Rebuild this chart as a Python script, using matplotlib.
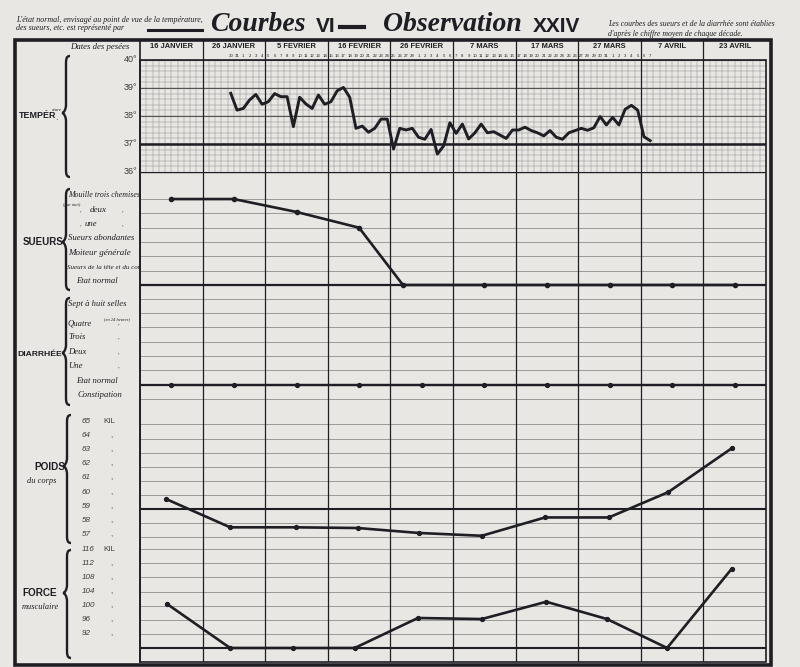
import numpy as np
import pandas as pd
import matplotlib
matplotlib.use('Agg')
import matplotlib.pyplot as plt
from matplotlib.lines import Line2D
from matplotlib.patches import Rectangle, PathPatch
from matplotlib.path import Path
from matplotlib.transforms import blended_transform_factory

W, H = 800, 667
PAPER = '#e8e7e3'
INK = '#1e1e24'
GRID = '#8e8e8e'
LABEL = '#3c3c3c'
SCRIPT = 'Liberation Serif'
SANS = 'Liberation Sans'

# ---- values (x = days since 16 janvier, 10 days per column) ----
decades = ['16 JANVIER', '26 JANVIER', '5 FEVRIER', '16 FEVRIER', '26 FEVRIER',
           '7 MARS', '17 MARS', '27 MARS', '7 AVRIL', '23 AVRIL']

temp_start = 14  # 30 janvier
temp = [38.81, 38.21, 38.27, 38.57, 38.77, 38.42, 38.51, 38.80, 38.69, 38.69,
        37.62, 38.67, 38.43, 38.27, 38.75, 38.42, 38.51, 38.90, 39.02, 38.67,
        37.56, 37.64, 37.42, 37.56, 37.89, 37.89, 36.82, 37.56, 37.50, 37.56,
        37.24, 37.17, 37.52, 36.64, 36.93, 37.76, 37.38, 37.71, 37.18, 37.40,
        37.71, 37.40, 37.44, 37.32, 37.20, 37.50, 37.50, 37.60, 37.48, 37.40,
        37.29, 37.48, 37.24, 37.17, 37.40, 37.48, 37.56, 37.49, 37.58, 37.98,
        37.68, 37.95, 37.68, 38.24, 38.38, 38.21, 37.26, 37.12]

sueurs_x = [5, 15, 25, 35, 42, 55, 65, 75, 85, 95]
sueurs = [6, 6, 5.1, 4, 0, 0, 0, 0, 0, 0]
diarrhee_x = [5, 15, 25, 35, 45, 55, 65, 75, 85, 95]
diarrhee = [0, 0, 0, 0, 0, 0, 0, 0, 0, 0]
poids_x = [4.2, 14.4, 24.9, 34.8, 44.5, 54.6, 64.7, 74.9, 84.4, 94.5]
poids = [59.7, 57.7, 57.7, 57.65, 57.3, 57.1, 58.4, 58.4, 60.2, 63.3]
force_x = [4.3, 14.4, 24.5, 34.3, 44.4, 54.6, 64.9, 74.6, 84.2, 94.5]
force = [100.5, 88, 88, 88, 96.5, 96.2, 101.1, 96.2, 88, 110.4]

temp_ticks = [40, 39, 38, 37, 36]
poids_ticks = [65, 64, 63, 62, 61, 60, 59, 58, 57]
force_ticks = [116, 112, 108, 104, 100, 96, 92]

fig = plt.figure(figsize=(8, 6.67), dpi=100, facecolor=PAPER)


def fpt(px, py):
    return px / W, 1 - py / H


def ftext(px, py, s, **kw):
    fig.text(px / W, 1 - py / H, s, **kw)


def fline(xs, ys, **kw):
    fig.add_artist(Line2D([x / W for x in xs], [1 - y / H for y in ys],
                          transform=fig.transFigure, **kw))


def panel(top, bottom):
    ax = fig.add_axes([140 / W, 1 - bottom / H, 626 / W, (bottom - top) / H])
    ax.set_facecolor('none')
    ax.set_xlim(0, 100)
    ax.set_xticks([])
    ax.set_yticks([])
    for s in ax.spines.values():
        s.set_visible(False)
    for xv in range(10, 100, 10):
        ax.axvline(xv, color=INK, lw=0.9, zorder=2)
    return ax


def brace(x, top, mid, bottom, w=4):
    pts = [(x + w, top), (x, top), (x, top + w), (x, top + 2 * w),
           (x, mid - 2 * w), (x, mid - w), (x - 0.5 * w, mid), (x - w, mid),
           (x - 0.5 * w, mid), (x, mid + w), (x, mid + 2 * w),
           (x, bottom - 2 * w), (x, bottom - w), (x, bottom), (x + w, bottom)]
    codes = [Path.MOVETO, Path.CURVE4, Path.CURVE4, Path.CURVE4,
             Path.LINETO, Path.CURVE4, Path.CURVE4, Path.CURVE4,
             Path.CURVE4, Path.CURVE4, Path.CURVE4,
             Path.LINETO, Path.CURVE4, Path.CURVE4, Path.CURVE4]
    path = Path([fpt(*p) for p in pts], codes)
    fig.add_artist(PathPatch(path, fill=False, lw=1.7, color=INK,
                             transform=fig.transFigure))


# ---- header row ----
hdr = panel(40, 60)
hdr.set_ylim(0, 1)
for i, lab in enumerate(decades):
    hdr.text(5 + 10 * i, 0.66, lab, ha='center', va='center', fontsize=5.4,
             fontweight='bold', family=SANS, color=INK)
days = pd.date_range('1890-01-30', periods=len(temp)).day
for i, d in enumerate(days):
    hdr.text(temp_start + 0.5 + i, 0.2, str(d), ha='center', va='center',
             fontsize=3.1, family=SANS, color=INK)

# ---- temperature ----
ax_t = panel(60, 172)
ax_t.set_ylim(36, 40)
for d in range(1, 100):
    if d % 10:
        ax_t.axvline(d, color=GRID, lw=0.35, zorder=1)
for v in np.arange(36.2, 40, 0.2):
    ax_t.axhline(v, color=GRID, lw=0.35, zorder=1)
for v in temp_ticks:
    ax_t.axhline(v, color='#555555', lw=0.8, zorder=1)
ax_t.axhline(37, color=INK, lw=1.8, zorder=2)
tx = temp_start + 0.5 + np.arange(len(temp))
ax_t.plot(tx, temp, color=INK, lw=2.1, zorder=4)
tr = blended_transform_factory(fig.transFigure, ax_t.transData)
for v in temp_ticks:
    ax_t.text(137 / W, v, f'{v}°', transform=tr, ha='right', va='center',
              fontsize=6.5, family=SANS, color=LABEL)

# ---- sueurs ----
ax_s = panel(172, 292)
ax_s.set_ylim(-0.49, 7.89)
ax_s.axhline(7.89, color=INK, lw=1.0)
for v in range(1, 7):
    ax_s.axhline(v, color=GRID, lw=0.6, zorder=1)
ax_s.axhline(0, color=INK, lw=1.6, zorder=2)
ax_s.plot(sueurs_x, sueurs, color=INK, lw=1.9, marker='o', ms=3, zorder=4)
tr = blended_transform_factory(fig.transFigure, ax_s.transData)
sueurs_labels = [(6, 68, 'left', 'Mouille trois chemises', 5.7),
                 (5, 98, 'center', 'deux', 6.4),
                 (4, 91, 'center', 'une', 6.2),
                 (3, 68, 'left', 'Sueurs abondantes', 6.3),
                 (2, 68, 'left', 'Moiteur générale', 6.5),
                 (1, 67, 'left', 'Sueurs de la tête et du cou', 5.0),
                 (0, 97, 'center', 'Etat normal', 6.2)]
for v, px, ha, s, fs in sueurs_labels:
    ax_s.text(px / W, v + 0.25, s, transform=tr, ha=ha, va='center',
              fontsize=fs, family=SCRIPT, style='italic', color=INK)
for v in (5, 4):
    for px in (81, 123):
        ax_s.text(px / W, v + 0.25, ',', transform=tr, ha='center',
                  va='center', fontsize=5, family=SCRIPT, color=LABEL)
ax_s.text(72 / W, 5.6, '(par nuit)', transform=tr, ha='center', va='center',
          fontsize=3.2, family=SCRIPT, style='italic', color=INK)

# ---- diarrhée ----
ax_d = panel(292, 404)
ax_d.set_ylim(-1.36, 6.47)
for v in range(-1, 7):
    if v:
        ax_d.axhline(v, color=GRID, lw=0.6, zorder=1)
ax_d.axhline(0, color=INK, lw=1.6, zorder=2)
ax_d.plot(diarrhee_x, diarrhee, color=INK, lw=1.6, marker='o', ms=2.8, zorder=4)
tr = blended_transform_factory(fig.transFigure, ax_d.transData)
diarrhee_labels = [(5.6, 68, 'left', 'Sept à huit selles'),
                   (4.3, 68, 'left', 'Quatre'),
                   (3.3, 68, 'left', 'Trois'),
                   (2.3, 68, 'left', 'Deux'),
                   (1.3, 68, 'left', 'Une'),
                   (0.25, 97, 'center', 'Etat normal'),
                   (-0.75, 100, 'center', 'Constipation')]
for v, px, ha, s in diarrhee_labels:
    ax_d.text(px / W, v, s, transform=tr, ha=ha, va='center', fontsize=6.2,
              family=SCRIPT, style='italic', color=INK)
for v in (4.3, 3.3, 2.3, 1.3):
    ax_d.text(119 / W, v, ',', transform=tr, ha='center', va='center',
              fontsize=5, family=SCRIPT, color=LABEL)
ax_d.text(117 / W, 4.6, '(en 24 heures)', transform=tr, ha='center',
          va='center', fontsize=3.2, family=SCRIPT, style='italic', color=INK)

# ---- poids du corps ----
ax_p = panel(404, 540)
ax_p.set_ylim(56.8, 66.45)
for v in poids_ticks:
    ax_p.axhline(v, color=GRID, lw=0.6, zorder=1)
ax_p.axhline(59, color=INK, lw=1.5, zorder=2)
ax_p.plot(poids_x, poids, color=INK, lw=1.9, marker='o', ms=2.8, zorder=4)
tr = blended_transform_factory(fig.transFigure, ax_p.transData)
for v in poids_ticks:
    ax_p.text(82 / W, v + 0.2, str(v), transform=tr, ha='left', va='center',
              fontsize=5.8, family=SANS, style='italic', color=LABEL)
    ax_p.text(103 / W if v == 65 else 110 / W, v + 0.2,
              'KIL' if v == 65 else ',', transform=tr, ha='left', va='center',
              fontsize=5.8, family=SANS, color=LABEL)

# ---- force musculaire ----
ax_f = panel(540, 662)
ax_f.set_ylim(84.03, 118.6)
for v in force_ticks:
    ax_f.axhline(v, color=GRID, lw=0.6, zorder=1)
ax_f.axhline(88, color=INK, lw=1.5, zorder=2)
ax_f.plot(force_x, force, color=INK, lw=1.9, marker='o', ms=2.8, zorder=4)
tr = blended_transform_factory(fig.transFigure, ax_f.transData)
for v in force_ticks:
    ax_f.text(82 / W, v, str(v), transform=tr, ha='left', va='center',
              fontsize=5.8, family=SANS, style='italic', color=LABEL)
    ax_f.text(103 / W if v == 116 else 110 / W, v,
              'KIL' if v == 116 else ',', transform=tr, ha='left',
              va='center', fontsize=5.8, family=SANS, color=LABEL)

# ---- frame ----
fig.add_artist(Rectangle(fpt(15, 665), 756 / W, 625 / H, fill=False, lw=2.6,
                         ec=INK, transform=fig.transFigure))
fig.add_artist(Rectangle(fpt(140, 662), 626 / W, 602 / H, fill=False, lw=1.2,
                         ec=INK, transform=fig.transFigure))
fline([140, 140], [40, 662], color=INK, lw=1.2)

# ---- left column labels ----
ftext(100, 47, 'Dates des pesées', ha='center', va='center', fontsize=6.3,
      family=SCRIPT, style='italic', color=INK)
ftext(19, 115, 'TEMPÉR', ha='left', va='center', fontsize=6.4,
      fontweight='bold', family=SANS, color=INK)
ftext(52, 110, 'ature', ha='left', va='center', fontsize=3.4,
      family=SCRIPT, style='italic', color=INK)
ftext(55, 118, '.', ha='left', va='center', fontsize=6, color=INK)
ftext(63, 242, 'SUEURS', ha='right', va='center', fontsize=7,
      fontweight='bold', family=SANS, color=INK)
ftext(62, 354, 'DIARRHÉE', ha='right', va='center', fontsize=6.1,
      fontweight='bold', family=SANS, color=INK)
ftext(50, 467, 'POIDS', ha='center', va='center', fontsize=7.2,
      fontweight='bold', family=SANS, color=INK)
ftext(42, 481, 'du corps', ha='center', va='center', fontsize=6,
      family=SCRIPT, style='italic', color=INK)
ftext(40, 593, 'FORCE', ha='center', va='center', fontsize=7.2,
      fontweight='bold', family=SANS, color=INK)
ftext(40, 607, 'musculaire', ha='center', va='center', fontsize=6,
      family=SCRIPT, style='italic', color=INK)

brace(66, 56, 113, 177)
brace(66, 189, 242, 290)
brace(66, 298, 353, 405)
brace(67, 415, 466, 543)
brace(67, 550, 593, 658)

# ---- titles and notes ----
ftext(210, 31, 'Courbes', ha='left', va='baseline', fontsize=20,
      family=SCRIPT, style='italic', fontweight='bold', color=INK)
ftext(316, 32, 'VI', ha='left', va='baseline', fontsize=15,
      fontweight='bold', family=SANS, color=INK)
fline([340, 364], [27, 27], color=INK, lw=3)
ftext(383, 31, 'Observation', ha='left', va='baseline', fontsize=20,
      family=SCRIPT, style='italic', fontweight='bold', color=INK)
ftext(533, 32, 'XXIV', ha='left', va='baseline', fontsize=15,
      fontweight='bold', family=SANS, color=INK)

ftext(16, 20, "L'état normal, envisagé au point de vue de la température,",
      ha='left', va='center', fontsize=5.8, family=SCRIPT, style='italic',
      color=INK)
ftext(16, 28, 'des sueurs, etc. est représenté par', ha='left', va='center',
      fontsize=5.8, family=SCRIPT, style='italic', color=INK)
fline([148, 202], [30, 30], color=INK, lw=2.2)
ftext(608, 24, 'Les courbes des sueurs et de la diarrhée sont établies',
      ha='left', va='center', fontsize=5.6, family=SCRIPT, style='italic',
      color=INK)
ftext(608, 34, "d'après le chiffre moyen de chaque décade.", ha='left',
      va='center', fontsize=5.6, family=SCRIPT, style='italic', color=INK)

fig.savefig('out.png', dpi=100, facecolor=PAPER)
